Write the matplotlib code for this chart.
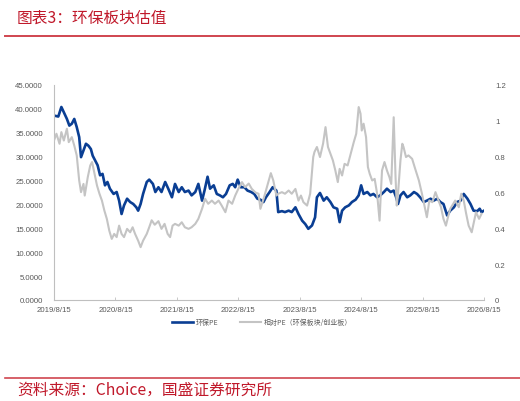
import matplotlib
matplotlib.use("Agg")
import matplotlib.pyplot as plt
from matplotlib.lines import Line2D
import numpy as np

# ---------------- data ----------------
# x positions in decimal years (2019/8/15 = 2019.62)
pe_x = [2019.62, 2019.69, 2019.74, 2019.78, 2019.83, 2019.87, 2019.91, 2019.95, 2019.99, 2020.03,
        2020.06, 2020.10, 2020.14, 2020.18, 2020.22, 2020.25, 2020.29, 2020.33, 2020.37, 2020.41,
        2020.45, 2020.49, 2020.53, 2020.59, 2020.64, 2020.68, 2020.72, 2020.76, 2020.81, 2020.86,
        2020.91, 2020.96, 2020.99, 2021.03, 2021.07, 2021.13, 2021.17, 2021.23, 2021.27, 2021.32,
        2021.37, 2021.43, 2021.48, 2021.54, 2021.59, 2021.65, 2021.70, 2021.75, 2021.81, 2021.86,
        2021.92, 2021.97, 2022.03, 2022.07, 2022.12, 2022.16, 2022.22, 2022.27, 2022.32, 2022.37,
        2022.42, 2022.48, 2022.53, 2022.57, 2022.61, 2022.66, 2022.72, 2022.77, 2022.83, 2022.88,
        2022.93, 2022.98, 2023.03, 2023.07, 2023.13, 2023.18, 2023.24, 2023.27, 2023.33, 2023.38,
        2023.44, 2023.49, 2023.55, 2023.60, 2023.66, 2023.71, 2023.76, 2023.82, 2023.87, 2023.90,
        2023.95, 2024.01, 2024.06, 2024.12, 2024.17, 2024.23, 2024.27, 2024.31, 2024.36, 2024.42,
        2024.47, 2024.53, 2024.58, 2024.62, 2024.66, 2024.72, 2024.77, 2024.82, 2024.88, 2024.93,
        2024.99, 2025.04, 2025.10, 2025.15, 2025.19, 2025.22, 2025.26, 2025.31, 2025.37, 2025.42,
        2025.48, 2025.53, 2025.58, 2025.64, 2025.69, 2025.75, 2025.80, 2025.86, 2025.91, 2025.96,
        2026.02, 2026.07, 2026.13, 2026.18, 2026.24, 2026.29, 2026.35, 2026.40, 2026.45, 2026.51,
        2026.55, 2026.58, 2026.62]
pe_val = [38.6, 38.4, 40.4, 39.3, 37.9, 36.5, 36.9, 37.9, 36.2, 34.1,
          29.9, 31.3, 32.7, 32.3, 31.6, 30.2, 29.2, 28.2, 26.1, 26.4,
          24.0, 24.7, 23.3, 22.2, 22.6, 20.8, 18.0, 19.8, 21.2, 20.5,
          20.1, 19.4, 18.7, 20.1, 22.2, 24.7, 25.2, 24.3, 22.6, 23.6,
          22.6, 24.7, 23.3, 21.5, 24.3, 22.6, 23.6, 22.6, 22.9, 21.9,
          22.6, 24.3, 20.8, 22.9, 25.8, 23.3, 24.0, 22.2, 21.9, 21.5,
          22.2, 24.0, 24.3, 23.6, 25.2, 23.6, 23.6, 22.9, 22.6, 22.2,
          21.2, 21.0, 20.5, 21.5, 22.6, 23.6, 22.9, 18.4, 18.6, 18.4,
          18.7, 18.4, 19.4, 18.0, 16.6, 15.9, 14.9, 15.6, 17.3, 21.5,
          22.4, 20.8, 21.5, 20.5, 19.4, 19.1, 16.3, 18.7, 19.4, 19.8,
          20.5, 21.0, 21.9, 24.0, 22.2, 22.6, 21.9, 22.2, 21.5, 21.9,
          22.6, 23.3, 22.6, 22.9, 21.5, 20.1, 21.9, 22.6, 21.5, 21.9,
          22.6, 22.2, 21.5, 20.5, 20.8, 21.2, 20.8, 21.2, 20.5, 20.1,
          17.7, 18.7, 19.4, 20.5, 20.8, 22.2, 21.2, 20.1, 18.7, 18.6,
          19.1, 18.4, 18.7]

rel_x = [2019.62, 2019.66, 2019.71, 2019.74, 2019.78, 2019.83, 2019.86, 2019.91, 2019.95, 2019.99,
         2020.03, 2020.06, 2020.10, 2020.12, 2020.17, 2020.21, 2020.24, 2020.28, 2020.32, 2020.36,
         2020.40, 2020.44, 2020.48, 2020.52, 2020.56, 2020.60, 2020.64, 2020.68, 2020.72, 2020.76,
         2020.81, 2020.86, 2020.90, 2020.94, 2020.99, 2021.03, 2021.07, 2021.13, 2021.17, 2021.21,
         2021.26, 2021.32, 2021.37, 2021.42, 2021.47, 2021.51, 2021.55, 2021.59, 2021.65, 2021.70,
         2021.75, 2021.81, 2021.86, 2021.92, 2021.97, 2022.03, 2022.08, 2022.13, 2022.19, 2022.24,
         2022.30, 2022.35, 2022.41, 2022.46, 2022.52, 2022.57, 2022.62, 2022.68, 2022.73, 2022.79,
         2022.84, 2022.90, 2022.95, 2022.98, 2023.04, 2023.10, 2023.15, 2023.19, 2023.24, 2023.27,
         2023.33, 2023.38, 2023.44, 2023.49, 2023.55, 2023.60, 2023.64, 2023.68, 2023.74, 2023.79,
         2023.84, 2023.86, 2023.90, 2023.95, 2024.00, 2024.04, 2024.08, 2024.12, 2024.16, 2024.20,
         2024.24, 2024.27, 2024.31, 2024.35, 2024.40, 2024.45, 2024.50, 2024.54, 2024.58, 2024.61,
         2024.63, 2024.66, 2024.70, 2024.73, 2024.76, 2024.80, 2024.84, 2024.88, 2024.92, 2024.94,
         2024.96, 2025.00, 2025.04, 2025.08, 2025.11, 2025.15, 2025.18, 2025.20, 2025.22, 2025.26,
         2025.29, 2025.31, 2025.35, 2025.39, 2025.45, 2025.50, 2025.56, 2025.61, 2025.65, 2025.69,
         2025.73, 2025.78, 2025.83, 2025.87, 2025.92, 2025.96, 2026.00, 2026.04, 2026.07, 2026.12,
         2026.15, 2026.21, 2026.25, 2026.29, 2026.33, 2026.37, 2026.42, 2026.45, 2026.49, 2026.54,
         2026.58, 2026.62]
rel_val = [0.890, 0.928, 0.872, 0.937, 0.890, 0.956, 0.881, 0.909, 0.862, 0.807,
           0.667, 0.602, 0.648, 0.583, 0.686, 0.751, 0.770, 0.704, 0.639, 0.593,
           0.555, 0.499, 0.453, 0.387, 0.341, 0.369, 0.351, 0.415, 0.369, 0.351,
           0.397, 0.378, 0.406, 0.369, 0.331, 0.295, 0.331, 0.369, 0.406, 0.445,
           0.420, 0.440, 0.397, 0.425, 0.369, 0.351, 0.415, 0.425, 0.415, 0.434,
           0.406, 0.397, 0.406, 0.425, 0.453, 0.509, 0.565, 0.537, 0.555, 0.537,
           0.555, 0.527, 0.490, 0.555, 0.537, 0.583, 0.620, 0.658, 0.630, 0.650,
           0.620, 0.600, 0.593, 0.509, 0.574, 0.648, 0.708, 0.667, 0.583, 0.593,
           0.602, 0.593, 0.611, 0.593, 0.620, 0.555, 0.583, 0.546, 0.527, 0.593,
           0.798, 0.826, 0.854, 0.798, 0.872, 0.965, 0.854, 0.816, 0.779, 0.723,
           0.658, 0.732, 0.695, 0.760, 0.751, 0.816, 0.881, 0.928, 1.077, 1.040,
           0.946, 0.984, 0.909, 0.742, 0.704, 0.667, 0.676, 0.593, 0.443, 0.593,
           0.723, 0.770, 0.723, 0.686, 0.648, 1.020, 0.686, 0.527, 0.593, 0.779,
           0.872, 0.854, 0.798, 0.807, 0.788, 0.732, 0.667, 0.593, 0.527, 0.462,
           0.555, 0.546, 0.602, 0.565, 0.518, 0.453, 0.415, 0.471, 0.509, 0.537,
           0.555, 0.518, 0.593, 0.555, 0.481, 0.415, 0.378, 0.425, 0.490, 0.453,
           0.481]

x_ticks = [2019.62, 2020.62, 2021.62, 2022.62, 2023.62, 2024.62, 2025.62, 2026.62]
x_tick_labels = ["2019/8/15", "2020/8/15", "2021/8/15", "2022/8/15",
                 "2023/8/15", "2024/8/15", "2025/8/15", "2026/8/15"]
left_ticks = [0, 5, 10, 15, 20, 25, 30, 35, 40, 45]
right_ticks = [0, 0.2, 0.4, 0.6, 0.8, 1.0, 1.2]
right_tick_labels = ["0", "0.2", "0.4", "0.6", "0.8", "1", "1.2"]
series_names = ["环保PE", "相对PE（环保板块/创业板）"]
title_text = "图表3：环保板块估值"
source_text = "资料来源：Choice，国盛证券研究所"

# ---------------- style ----------------
plt.rcParams['font.family'] = ['Liberation Sans', 'Noto Sans CJK SC', 'DejaVu Sans']
W, H = 520, 402
fig = plt.figure(figsize=(W / 100, H / 100), dpi=100)

BLUE = "#0A3E93"
GREY = "#C4C4C4"
RED = "#C0182A"
TICKC = "#595959"
AXC = "#BFBFBF"

L, R, T, B = 54, 484, 86, 301
ax = fig.add_axes([L / W, 1 - B / H, (R - L) / W, (B - T) / H])
ax2 = ax.twinx()

n_rel = min(len(rel_x), len(rel_val))
ax.plot(pe_x, pe_val, color=BLUE, lw=1.9, solid_joinstyle='round', zorder=2)
ax2.plot(rel_x[:n_rel], rel_val[:n_rel], color=GREY, lw=1.5, solid_joinstyle='round', zorder=3)

ax.set_xlim(x_ticks[0], x_ticks[-1])
ax.set_ylim(0, 45)
ax2.set_ylim(0, 1.2)

ax.set_xticks(x_ticks)
ax.set_xticklabels(x_tick_labels)
ax.set_yticks(left_ticks)
ax.set_yticklabels([f"{v:.4f}" for v in left_ticks])
ax2.set_yticks(right_ticks)
ax2.set_yticklabels(right_tick_labels)

for a in (ax, ax2):
    for s in ("top", "right"):
        a.spines[s].set_visible(False)
    a.set_facecolor("none")
ax2.spines["left"].set_visible(False)
ax2.spines["bottom"].set_visible(False)
ax.spines["left"].set_color(AXC)
ax.spines["bottom"].set_color(AXC)
ax.spines["left"].set_linewidth(0.8)
ax.spines["bottom"].set_linewidth(0.8)

ax.tick_params(axis='x', direction='in', length=2, width=0.6, color=AXC,
               labelsize=5.6, labelcolor=TICKC, pad=4)
ax.tick_params(axis='y', length=0, labelsize=5.6, labelcolor=TICKC, pad=8)
ax2.tick_params(axis='y', length=0, labelsize=5.6, labelcolor=TICKC, pad=8)

# legend
handles = [Line2D([0], [0], color=BLUE, lw=1.9), Line2D([0], [0], color=GREY, lw=1.5)]
fig.legend(handles, series_names, loc='center', bbox_to_anchor=(262 / W, 1 - 323 / H),
           ncol=2, frameon=False, handlelength=3.0, columnspacing=3.2,
           handletextpad=0.4, labelcolor=TICKC,
           prop={'family': ['Noto Sans CJK SC'], 'size': 5})

# title and source
fig.text(17 / W, 1 - 18 / H, title_text, color=RED, fontsize=11.3,
         family=['Noto Sans CJK SC'], va='center', ha='left')
fig.add_artist(Line2D([5 / W, 1.0], [1 - 36.5 / H, 1 - 36.5 / H], color="#D0454F", lw=1.4))
fig.add_artist(Line2D([5 / W, 1.0], [1 - 379 / H, 1 - 379 / H], color="#D0454F", lw=1.2))
fig.text(17 / W, 1 - 390 / H, source_text, color=RED, fontsize=11.3,
         family=['Noto Sans CJK SC'], va='center', ha='left')

fig.savefig("out.png", dpi=100)
